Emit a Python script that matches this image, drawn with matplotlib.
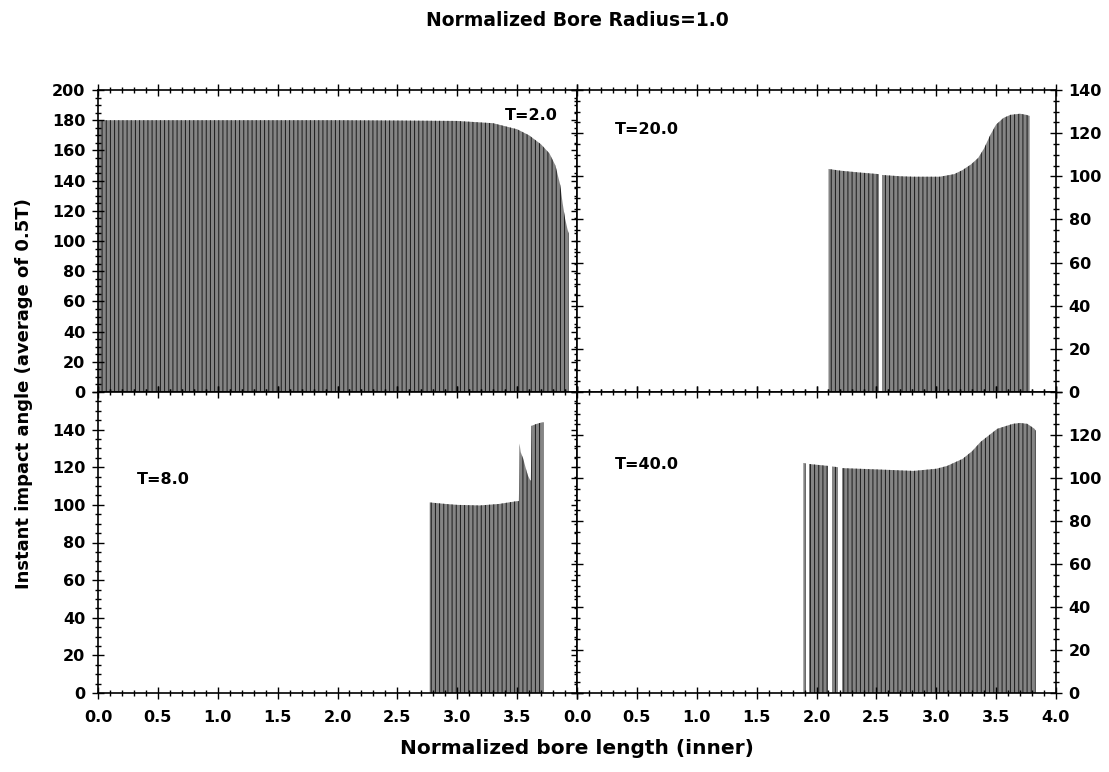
import matplotlib
matplotlib.use("Agg")
import matplotlib.pyplot as plt
from matplotlib.ticker import MultipleLocator, FuncFormatter

plt.rcParams['font.family'] = ['DejaVu Sans']
plt.rcParams['font.weight'] = 'bold'
plt.rcParams['hatch.linewidth'] = 0.7
plt.rcParams['hatch.color'] = '#1a1a1a'

# ---- data (envelopes of the dense bar plots) ----
t2_x = [0.00, 0.50, 1.00, 1.50, 2.00, 2.50, 3.00, 3.30, 3.50, 3.60, 3.70, 3.77, 3.82, 3.86, 3.88, 3.90, 3.92, 3.93]
t2_y = [180.0, 180.0, 180.0, 180.0, 180.0, 179.8, 179.5, 178.0, 174.0, 170.0, 164.0, 158.0, 150.0, 137.0, 125.0, 115.0, 108.0, 105.0]
t2_gaps = []

t20_x = [2.10, 2.20, 2.35, 2.52, 2.55, 2.70, 2.81, 3.03, 3.15, 3.22, 3.29, 3.35, 3.40, 3.45, 3.50, 3.56, 3.62, 3.70, 3.75, 3.78]
t20_y = [103.4, 102.6, 101.8, 101.0, 100.6, 100.0, 99.8, 99.8, 101.0, 102.9, 105.5, 108.5, 113.0, 119.0, 124.0, 127.0, 128.5, 129.0, 128.5, 128.0]
t20_gaps = [(2.525, 2.545)]

t8_x = [2.77, 2.90, 3.00, 3.19, 3.35, 3.50, 3.515, 3.52, 3.53, 3.55, 3.57, 3.59, 3.61, 3.615, 3.62, 3.66, 3.71, 3.72]
t8_y = [101.3, 100.5, 100.0, 99.7, 100.5, 102.0, 102.0, 132.6, 128.0, 124.7, 120.0, 115.6, 113.0, 113.0, 142.0, 143.0, 143.9, 143.9]
t8_gaps = []

t40_x = [1.89, 1.94, 2.10, 2.18, 2.21, 2.50, 2.81, 3.00, 3.09, 3.22, 3.30, 3.37, 3.51, 3.64, 3.70, 3.76, 3.82, 3.83]
t40_y = [107.0, 106.5, 105.6, 105.0, 104.6, 104.0, 103.3, 104.3, 105.6, 108.9, 112.5, 116.8, 122.9, 125.2, 125.6, 125.2, 122.9, 122.0]
t40_gaps = [(1.91, 1.94), (2.10, 2.13), (2.18, 2.21)]

labels = ["T=2.0", "T=20.0", "T=8.0", "T=40.0"]
ylims = [200, 140, 160, 140]

fig = plt.figure(figsize=(11.09, 7.72), dpi=100)

L, M, R = 98 / 1109, 577 / 1109, 1056 / 1109
T, C, B = 1 - 90 / 772, 1 - 392 / 772, 1 - 693 / 772

ax_tl = fig.add_axes([L, C, M - L, T - C])
ax_tr = fig.add_axes([M, C, R - M, T - C])
ax_bl = fig.add_axes([L, B, M - L, C - B])
ax_br = fig.add_axes([M, B, R - M, C - B])
axes = [ax_tl, ax_tr, ax_bl, ax_br]
datas = [(t2_x, t2_y, t2_gaps), (t20_x, t20_y, t20_gaps), (t8_x, t8_y, t8_gaps), (t40_x, t40_y, t40_gaps)]
text_pos = [(3.40, 182.8), (0.317, 121.9), (0.326, 113.5), (0.317, 106.5)]

for i, ax in enumerate(axes):
    xs, ys, gaps = datas[i]
    ax.fill_between(xs, 0, ys, facecolor='#858585', edgecolor='#1a1a1a',
                    hatch='||||', linewidth=0, zorder=1)
    for g0, g1 in gaps:
        ax.axvspan(g0, g1, facecolor='white', edgecolor='none', zorder=1.2)
    ax.set_xlim(0, 4.0)
    ax.set_ylim(0, ylims[i])
    ax.xaxis.set_major_locator(MultipleLocator(0.5))
    ax.xaxis.set_minor_locator(MultipleLocator(0.1))
    ax.yaxis.set_major_locator(MultipleLocator(20))
    ax.yaxis.set_minor_locator(MultipleLocator(5))
    ax.tick_params(which='both', direction='inout', top=True, bottom=True,
                   left=True, right=True, width=1.0, labelsize=11.5)
    ax.tick_params(which='major', length=8)
    ax.tick_params(which='minor', length=4)
    ax.tick_params(axis='x', pad=8)
    ax.tick_params(axis='y', pad=5)
    for sp in ax.spines.values():
        sp.set_linewidth(1.2)
    ax.text(text_pos[i][0], text_pos[i][1], labels[i], ha='left', va='center',
            fontsize=11.5, fontweight='bold')

fmt_x = FuncFormatter(lambda v, p: f"{v:.1f}")
fmt_y = FuncFormatter(lambda v, p: f"{v:.0f}")

ax_tl.tick_params(labelbottom=False, labelleft=True, labelright=False)
ax_tl.yaxis.set_major_formatter(fmt_y)
ax_tr.tick_params(labelbottom=False, labelleft=False, labelright=True)
ax_tr.yaxis.set_major_formatter(fmt_y)
ax_bl.tick_params(labelbottom=True, labelleft=True, labelright=False)
ax_bl.xaxis.set_major_formatter(FuncFormatter(lambda v, p: "" if v > 3.9 else f"{v:.1f}"))
ax_bl.yaxis.set_major_formatter(FuncFormatter(lambda v, p: "" if v > 150 else f"{v:.0f}"))
ax_br.tick_params(labelbottom=True, labelleft=False, labelright=True)
ax_br.xaxis.set_major_formatter(fmt_x)
ax_br.yaxis.set_major_formatter(FuncFormatter(lambda v, p: "" if v > 130 else f"{v:.0f}"))

for ax in axes:
    for lab in ax.get_xticklabels() + ax.get_yticklabels():
        lab.set_fontweight('bold')

fig.text(577 / 1109, 1 - 20 / 772, "Normalized Bore Radius=1.0", ha='center', va='center',
         fontsize=13.5, fontweight='bold')
fig.text(577 / 1109, 1 - 748 / 772, "Normalized bore length (inner)", ha='center', va='center',
         fontsize=14.5, fontweight='bold')
fig.text(24 / 1109, 1 - 394 / 772, "Instant impact angle (average of 0.5T)", ha='center', va='center',
         rotation=90, fontsize=13, fontweight='bold')

fig.savefig("out.png", dpi=100, facecolor='white')
